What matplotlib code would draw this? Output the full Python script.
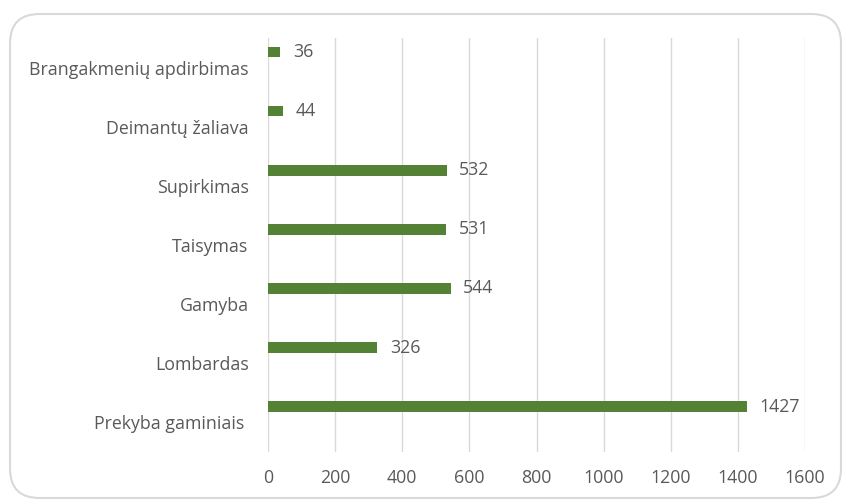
import matplotlib
matplotlib.use("Agg")
import matplotlib.pyplot as plt
from matplotlib.patches import FancyBboxPatch

categories = ["Prekyba gaminiais ", "Lombardas", "Gamyba", "Taisymas",
              "Supirkimas", "Deimantų žaliava", "Brangakmenių apdirbimas"]
values = [1427, 326, 544, 531, 532, 44, 36]
xticks = [0, 200, 400, 600, 800, 1000, 1200, 1400, 1600]

plt.rcParams['font.family'] = ['Open Sans', 'DejaVu Sans']
text_color = '#595959'
bar_color = '#548235'
grid_color = '#d9d9d9'
fs = 12.8

fig = plt.figure(figsize=(8.43, 5.01), dpi=100)
fig.patch.set_facecolor('white')

# rounded frame
frame = FancyBboxPatch((10/843, 3/501), 831/843, 484/501,
                       boxstyle="round,pad=0,rounding_size=0.035",
                       transform=fig.transFigure, fill=False,
                       edgecolor='#d9d9d9', linewidth=1.5, clip_on=False,
                       mutation_aspect=843/501)
fig.patches.append(frame)

ax = fig.add_axes([268/843, 1-452/501, (805-268)/843, (452-38)/501])
ypos = list(range(len(categories)))
offset = 0.265
barpos = [y + offset for y in ypos]
ax.barh(barpos, values, height=0.18, color=bar_color, zorder=3)
for b, v in zip(barpos, values):
    ax.text(v + 38, b, str(v), va='center', ha='left', fontsize=fs, color=text_color)

ax.set_xlim(0, 1600)
ax.set_ylim(-0.5, len(categories) - 0.5)
ax.set_xticks(xticks)
ax.set_xticklabels([str(t) for t in xticks], fontsize=fs, color=text_color)
ax.set_yticks(ypos)
ax.set_yticklabels(categories, fontsize=fs, color=text_color)
ax.tick_params(axis='both', length=0)
ax.tick_params(axis='x', pad=12)
ax.tick_params(axis='y', pad=14)
ax.grid(axis='x', color=grid_color, linewidth=1, zorder=0)
for s in ax.spines.values():
    s.set_visible(False)

fig.savefig("out.png", dpi=100, facecolor='white')
